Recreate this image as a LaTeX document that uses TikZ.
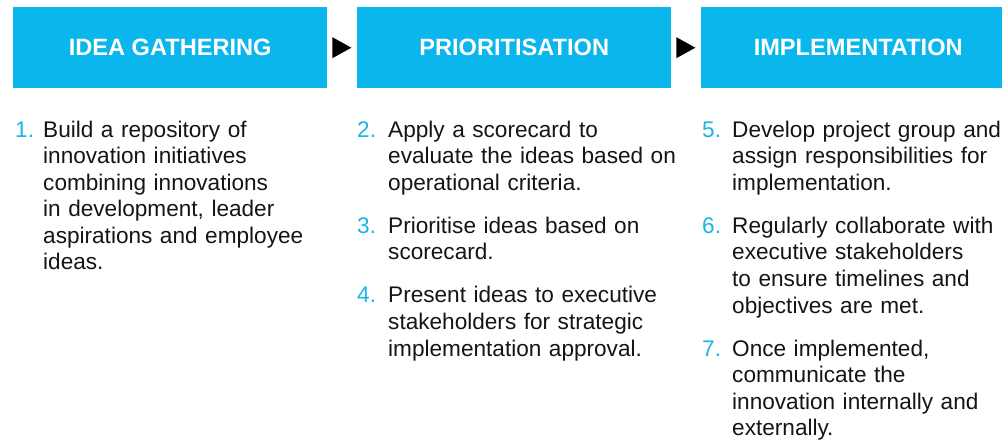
\documentclass[tikz,border=0pt]{standalone}
\usepackage{fontspec}
\setmainfont{Liberation Sans}
\usetikzlibrary{calc}
\definecolor{hdrblue}{HTML}{0AB6EC}
\definecolor{numblue}{HTML}{1AB4E8}
\definecolor{bodytext}{HTML}{151515}
\begin{document}
\begin{tikzpicture}[x=1pt,y=-1pt,
  header/.style={fill=hdrblue, text=white, minimum width=314pt, minimum height=81pt,
    inner sep=0pt, anchor=north west, font=\bfseries\fontsize{23.6}{28}\selectfont},
  num/.style={anchor=base west, inner sep=0pt, text=numblue, font=\fontsize{22.6}{26.6}\selectfont},
  body/.style={anchor=base west, inner sep=0pt, text=bodytext, text width=#1, align=left,
    font=\fontsize{22.6}{26.6}\selectfont},
  body/.default=290pt,
  flowtip/.style={fill=black}]
\useasboundingbox (0,0) rectangle (1002,444);
\clip (0,0) rectangle (1002,444);
\fill[white] (0,0) rectangle (1002,444);
% headers
\node[header] (h1) at (13,7) {IDEA GATHERING};
\node[header] (h2) at (357,7) {PRIORITISATION};
\node[header] (h3) at (701,7) {IMPLEMENTATION};
% flow arrows
\fill[flowtip] ($(h1.east)+(5,-10.5)$) -- ++(19,10.5) -- ++(-19,10.5) -- cycle;
\fill[flowtip] ($(h2.east)+(5,-10.5)$) -- ++(19,10.5) -- ++(-19,10.5) -- cycle;
% column 1
\node[num] (n1) at (15,137) {1.};
\node[body] (t1) at (43,137) {Build a repository of\\innovation initiatives\\combining innovations\\in development, leader\\aspirations and employee\\ideas.};
% column 2
\node[num] (n2) at (357,137) {2.};
\node[body=305pt] (t2) at (388,137) {Apply a scorecard to\\evaluate the ideas based on\\operational criteria.};
\node[num] (n3) at (357,233.2) {3.};
\node[body=305pt] (t3) at (388,233.2) {Prioritise ideas based on\\scorecard.};
\node[num] (n4) at (357,302.8) {4.};
\node[body=305pt] (t4) at (388,302.8) {Present ideas to executive\\stakeholders for strategic\\implementation approval.};
% column 3
\node[num] (n5) at (702,137) {5.};
\node[body=300pt] (t5) at (732,137) {Develop project group and\\assign responsibilities for\\implementation.};
\node[num] (n6) at (702,233.2) {6.};
\node[body=300pt] (t6) at (732,233.2) {Regularly collaborate with\\executive stakeholders\\to ensure timelines and\\objectives are met.};
\node[num] (n7) at (702,356) {7.};
\node[body=300pt] (t7) at (732,356) {Once implemented,\\communicate the\\innovation internally and\\externally.};
\end{tikzpicture}
\end{document}
